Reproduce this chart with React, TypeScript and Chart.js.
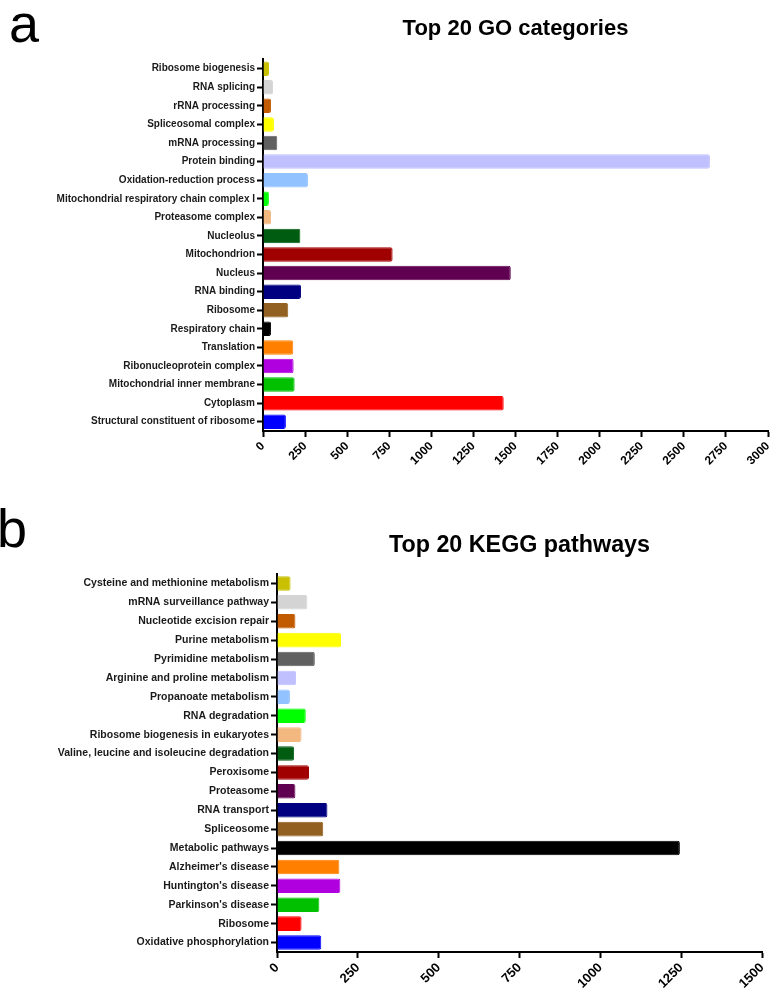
import React, { useEffect, useRef } from "react";
import { Chart, registerables } from "chart.js";

Chart.register(...registerables);

const FONT = "'Liberation Sans', Arial, Helvetica, sans-serif";

// Panel a: GO terms, listed top to bottom
const goCategories = [
  "Ribosome biogenesis",
  "RNA splicing",
  "rRNA processing",
  "Spliceosomal complex",
  "mRNA processing",
  "Protein binding",
  "Oxidation-reduction process",
  "Mitochondrial respiratory chain complex I",
  "Proteasome complex",
  "Nucleolus",
  "Mitochondrion",
  "Nucleus",
  "RNA binding",
  "Ribosome",
  "Respiratory chain",
  "Translation",
  "Ribonucleoprotein complex",
  "Mitochondrial inner membrane",
  "Cytoplasm",
  "Structural constituent of ribosome",
];
const goCounts = [36, 60, 48, 65, 85, 2655, 267, 35, 48, 222, 770, 1472, 226, 150, 48, 180, 182, 188, 1430, 136];

// Panel b: KEGG pathways, listed top to bottom
const keggPathways = [
  "Cysteine and methionine metabolism",
  "mRNA surveillance pathway",
  "Nucleotide excision repair",
  "Purine metabolism",
  "Pyrimidine metabolism",
  "Arginine and proline metabolism",
  "Propanoate metabolism",
  "RNA degradation",
  "Ribosome biogenesis in eukaryotes",
  "Valine, leucine and isoleucine degradation",
  "Peroxisome",
  "Proteasome",
  "RNA transport",
  "Spliceosome",
  "Metabolic pathways",
  "Alzheimer's disease",
  "Huntington's disease",
  "Parkinson's disease",
  "Ribosome",
  "Oxidative phosphorylation",
];
const keggCounts = [42, 94, 57, 198, 117, 59, 40, 89, 76, 53, 99, 57, 156, 143, 1246, 193, 196, 131, 76, 137];

// One colour per row, shared by both panels
const barColors = [
  "#c8c000", "#d4d4d4", "#c25a00", "#ffff00", "#606060",
  "#c0c0ff", "#92c2ff", "#00ff00", "#f2b880", "#005c10",
  "#a00000", "#600050", "#000080", "#926020", "#000000",
  "#ff8000", "#b000e0", "#00c000", "#ff0000", "#0000ff",
];

const goAxisMax = 3000;
const keggAxisMax = 1500;
const axisStep = 250;

const panelLetter = {
  id: "panelLetter",
  afterDraw(chart: any, _args: any, opts: any) {
    const ctx = chart.ctx;
    ctx.save();
    ctx.font = `54px ${FONT}`;
    ctx.fillStyle = "#000";
    ctx.textBaseline = "alphabetic";
    ctx.textAlign = "left";
    ctx.fillText(opts.text, opts.x, opts.y);
    ctx.restore();
  },
};

type PanelSpec = {
  labels: string[];
  values: number[];
  max: number;
  title: string;
  titleSize: number;
  titlePadTop: number;
  titlePadBottom: number;
  yAxisWidth: number;
  xAxisHeight: number;
  padRight: number;
  labelSize: number;
  tickSize: number;
  barPct: number;
  letter: string;
  letterX: number;
  letterY: number;
};

function buildConfig(p: PanelSpec): any {
  return {
    type: "bar",
    data: {
      labels: p.labels,
      datasets: [
        {
          data: p.values,
          backgroundColor: barColors,
          borderColor: barColors,
          borderWidth: 1,
          borderRadius: 2,
          borderSkipped: "start",
          barPercentage: p.barPct,
          categoryPercentage: 1,
        },
      ],
    },
    options: {
      indexAxis: "y",
      responsive: false,
      animation: false,
      events: [],
      layout: { padding: { left: 0, right: p.padRight, top: 0, bottom: 0 } },
      plugins: {
        legend: { display: false },
        tooltip: { enabled: false },
        title: {
          display: true,
          text: p.title,
          fullSize: false,
          color: "#000",
          font: { family: FONT, size: p.titleSize, weight: "bold" },
          padding: { top: p.titlePadTop, bottom: p.titlePadBottom },
        },
        panelLetter: { text: p.letter, x: p.letterX, y: p.letterY },
      },
      scales: {
        x: {
          type: "linear",
          min: 0,
          max: p.max,
          grid: {
            drawOnChartArea: false,
            drawTicks: true,
            tickLength: 6,
            tickWidth: 2,
            tickColor: "#000",
          },
          border: { display: true, color: "#000", width: 2 },
          ticks: {
            stepSize: axisStep,
            autoSkip: false,
            minRotation: 45,
            maxRotation: 45,
            padding: 2,
            color: "#000",
            font: { family: FONT, size: p.tickSize, weight: "bold" },
            callback: (v: any) => String(v),
          },
          afterFit: (s: any) => {
            s.height = p.xAxisHeight;
            s.paddingLeft = 0;
            s.paddingRight = 0;
          },
        },
        y: {
          type: "category",
          grid: {
            offset: false,
            drawOnChartArea: false,
            drawTicks: true,
            tickLength: 6,
            tickWidth: 2,
            tickColor: "#000",
          },
          border: { display: true, color: "#000", width: 2 },
          ticks: {
            autoSkip: false,
            padding: 2,
            color: "#1a1a1a",
            font: { family: FONT, size: p.labelSize, weight: "bold" },
          },
          afterFit: (s: any) => {
            s.width = p.yAxisWidth;
            s.paddingTop = 0;
            s.paddingBottom = 0;
          },
        },
      },
    },
    plugins: [panelLetter],
  };
}

function BarPanel({ spec, width, height, top }: { spec: PanelSpec; width: number; height: number; top: number }) {
  const ref = useRef<HTMLCanvasElement | null>(null);
  useEffect(() => {
    if (!ref.current) return;
    const chart = new Chart(ref.current, buildConfig(spec));
    return () => chart.destroy();
  }, [spec]);
  return (
    <canvas
      ref={ref}
      width={width}
      height={height}
      style={{ position: "absolute", left: 0, top, width, height, display: "block" }}
    />
  );
}

const goPanel: PanelSpec = {
  labels: goCategories,
  values: goCounts,
  max: goAxisMax,
  title: "Top 20 GO categories",
  titleSize: 22,
  titlePadTop: 16,
  titlePadBottom: 17,
  yAxisWidth: 263,
  xAxisHeight: 59,
  padRight: 2,
  labelSize: 10,
  tickSize: 12,
  barPct: 0.78,
  letter: "a",
  letterX: 9,
  letterY: 42,
};

const keggPanel: PanelSpec = {
  labels: keggPathways,
  values: keggCounts,
  max: keggAxisMax,
  title: "Top 20 KEGG pathways",
  titleSize: 23.3,
  titlePadTop: 42,
  titlePadBottom: 14,
  yAxisWidth: 277,
  xAxisHeight: 36,
  padRight: 8,
  labelSize: 10.5,
  tickSize: 13,
  barPct: 0.77,
  letter: "b",
  letterX: -3,
  letterY: 57,
};

export default function App() {
  return (
    <div style={{ position: "absolute", left: 0, top: 0, width: 770, height: 988, background: "#fff", overflow: "hidden" }}>
      <BarPanel spec={goPanel} width={770} height={490} top={0} />
      <BarPanel spec={keggPanel} width={770} height={498} top={490} />
    </div>
  );
}
